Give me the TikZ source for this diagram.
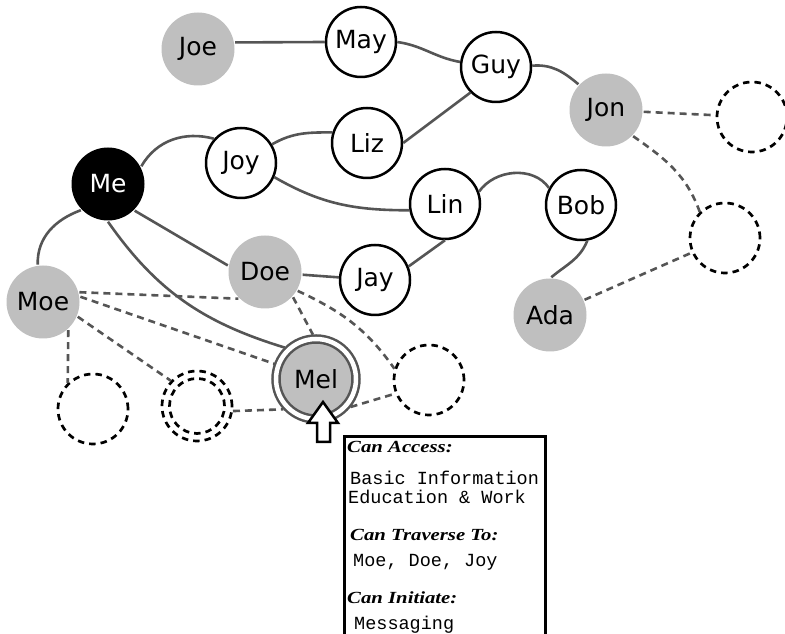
\documentclass[tikz,border=0pt]{standalone}
\usepackage{fontspec}
\setmainfont{DejaVu Sans}
\newfontfamily\headfont{Liberation Serif}
\newfontfamily\bodyfont{Liberation Mono}
\definecolor{nodegray}{HTML}{BFBFBF}
\definecolor{edgegray}{HTML}{555555}
\newcommand\personfont{\fontsize{25}{29}\selectfont}
\newcommand\cardheadfont{\headfont\bfseries\itshape\fontsize{17}{20}\selectfont}
\newcommand\cardbodyfont{\bodyfont\fontsize{18.5}{20}\selectfont}
\begin{document}
\begin{tikzpicture}[x=1pt,y=1pt,
  person/.style={circle, minimum size=70pt, inner sep=0pt, line width=2.5pt,
    font=\personfont},
  known/.style={person, draw=black, fill=white},
  reach/.style={person, minimum size=73pt, fill=nodegray},
  self/.style={person, fill=black, text=white, minimum size=73pt},
  target/.style={person, minimum size=80pt, fill=nodegray, draw=edgegray,
    double=white, double distance=4.5pt, outer sep=4.5pt},
  open/.style={circle, minimum size=70pt, inner sep=0pt, draw=black,
    line width=2.7pt, dash pattern=on 6.5pt off 5pt},
  tie/.style={draw=edgegray, line width=2.6pt},
  reachtie/.style={tie, dash pattern=on 7pt off 5pt},
  headtext/.style={anchor=base west, inner sep=0pt, transform shape,
    xscale=1.22, font=\cardheadfont},
  bodytext/.style={anchor=base west, inner sep=0pt, font=\cardbodyfont},
]
\useasboundingbox (0,0) rectangle (785,634);
\clip (0,0) rectangle (785,634);

% people in the network
\node[reach] (Joe) at (198,585) {Joe};
\node[known] (May) at (361,592) {May};
\node[known] (Guy) at (496,567) {Guy};
\node[reach] (Jon) at (606,524) {Jon};
\node[known] (Joy) at (241,471) {Joy};
\node[known] (Liz) at (367,491) {Liz};
\node[self]  (Me)  at (108,450) {Me};
\node[known] (Lin) at (445,430) {Lin};
\node[known] (Bob) at (581,429) {Bob};
\node[reach] (Ada) at (550,319) {Ada};
\node[known] (Jay) at (375,354) {Jay};
\node[reach] (Doe) at (265,362) {Doe};
\node[reach] (Moe) at (43,332) {Moe};
\node[target] (Mel) at (316,255) {Mel};

% unknown contacts
\node[open] (D1) at (752,517) {};
\node[open] (D2) at (725,396) {};
\node[open] (D3) at (93,225) {};
\node[open] (D4) at (197,228) {};
\node[open, minimum size=55pt] (D4i) at (197,228) {};
\node[open] (D5) at (429,254) {};

% friendships
\draw[tie] (Joe.10) -- (May.180);
\draw[tie] (May.0) to[out=-8,in=170] (Guy.172);
\draw[tie] (Guy.225) -- (Liz.0);
\draw[tie] (Guy.2) to[out=5,in=140] (Jon.137);
\draw[tie] (Me.28) to[out=60,in=165] (Joy.138);
\draw[tie] (Joy.31) to[out=30,in=180] (Liz.163);
\draw[tie] (Joy.-23) to[out=-30,in=180] (Lin.190);
\draw[tie] (Lin.20) to[out=55,in=125] (Bob.152);
\draw[tie] (Bob.-80) to[out=-112,in=40] (Ada.88);
\draw[tie] (Lin.-90) -- (Jay.22);
\draw[tie] (Doe) -- (Jay);
\draw[tie] (Me.-45) -- (Doe.170);
\draw[tie] (Me.-90) to[out=-55,in=163] (Mel.135);
\draw[tie] (Me.224) to[out=200,in=92] (Moe.98);

% reachable links
\draw[reachtie] (Jon) -- (D1);
\draw[reachtie] (Jon.-44) to[out=-35,in=110] (D2.134);
\draw[reachtie] (Ada) -- (D2);
\draw[reachtie] (Moe.15) -- (Doe.225);
\draw[reachtie] (Moe.8) -- (Mel.160);
\draw[reachtie] (Moe.-23) -- (D4.136);
\draw[reachtie] (Moe.-48) -- (D3.134);
\draw[reachtie] (Doe.-42) -- (Mel.94);
\draw[reachtie] (Doe.-30) to[out=-25,in=125] (D5.162);
\draw[reachtie] (D4.-8) -- (Mel.223);
\draw[reachtie] (Mel.-39) -- (D5.202);

% pointer to the selected person
\draw[line width=2.5pt, fill=white, line join=miter]
  (323,232) -- (338,211) -- (330,211) -- (330,192) -- (317,192)
  -- (317,211) -- (308,211) -- cycle;

% permission card
\node[draw=black, line width=3pt, minimum width=201pt, minimum height=240pt,
  anchor=north west, inner sep=0pt] (card) at (343,199) {};
\node[headtext] (h1) at (347,181) {Can Access:};
\node[bodytext] (b1) at (350,149) {Basic Information};
\node[bodytext] (b2) at (348,130) {Education \& Work};
\node[headtext] (h2) at (350,93) {Can Traverse To:};
\node[bodytext] (b3) at (353,67) {Moe, Doe, Joy};
\node[headtext] (h3) at (347,30) {Can Initiate:};
\node[bodytext] (b4) at (354,4) {Messaging};
\end{tikzpicture}
\end{document}
